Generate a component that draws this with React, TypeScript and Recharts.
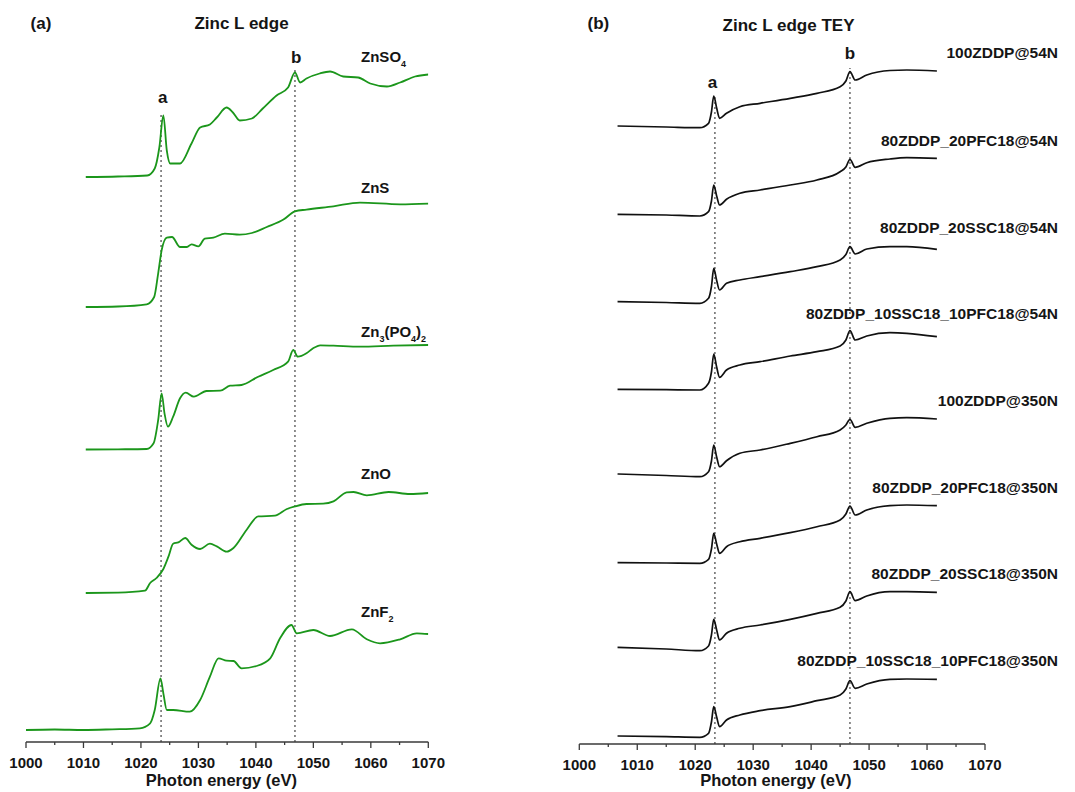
import { LineChart, Line, XAxis, YAxis, ReferenceLine, ReferenceDot } from 'recharts'

const FONT = '"Liberation Sans", Arial, Helvetica, sans-serif'
const GREEN = '#1b961b'
const INK = '#151515'
const AXIS = '#3a3a3a'

// (a) reference compounds, Zn L edge
const znso4Energy = [1010.4, 1016, 1021.1, 1022.4, 1023.2, 1023.9, 1024.5, 1025.1, 1026.8, 1028.8, 1030.3, 1032.0, 1033.2, 1034.9, 1036.0, 1037.2, 1039.3, 1041.2, 1043.6, 1045.6, 1046.8, 1047.7, 1048.8, 1051.1, 1052.9, 1055.2, 1057.8, 1059.9, 1062.8, 1065.1, 1067.7, 1070]
const znso4Int = [0, 0.005, 0.015, 0.085, 0.295, 0.615, 0.265, 0.135, 0.135, 0.335, 0.495, 0.525, 0.595, 0.695, 0.645, 0.565, 0.585, 0.685, 0.815, 0.895, 1.045, 0.945, 0.985, 1.035, 1.055, 1.005, 0.995, 0.935, 0.905, 0.945, 1.005, 1.025]

const znsEnergy = [1010.4, 1016, 1021.0, 1022.3, 1023.0, 1023.6, 1024.5, 1025.4, 1026.8, 1028.0, 1028.8, 1030.0, 1031.1, 1032.6, 1034.6, 1037.2, 1039.3, 1041.9, 1044.8, 1046.8, 1048.8, 1053.5, 1058.1, 1065.1, 1070]
const znsInt = [0, 0.005, 0.027, 0.1, 0.337, 0.567, 0.694, 0.7, 0.6, 0.6, 0.627, 0.607, 0.684, 0.694, 0.734, 0.724, 0.74, 0.8, 0.874, 0.957, 0.974, 1.007, 1.044, 1.027, 1.034]

const znPhosEnergy = [1010.4, 1016, 1021.0, 1022.2, 1023.0, 1023.6, 1024.1, 1024.7, 1025.6, 1026.8, 1027.8, 1029.2, 1031.4, 1033.8, 1035.5, 1037.5, 1040.4, 1043.0, 1045.6, 1046.5, 1047.3, 1048.8, 1049.9, 1051.2, 1053.5, 1058.1, 1063.9, 1070]
const znPhosInt = [0, 0.002, 0.005, 0.062, 0.295, 0.562, 0.362, 0.228, 0.328, 0.512, 0.568, 0.528, 0.585, 0.588, 0.638, 0.645, 0.728, 0.795, 0.878, 0.995, 0.928, 0.962, 1.01, 1.042, 1.038, 1.028, 1.038, 1.045]

const znoEnergy = [1010.4, 1016, 1020.7, 1021.6, 1022.7, 1023.9, 1024.8, 1025.6, 1026.5, 1027.7, 1028.8, 1030.3, 1032.0, 1033.2, 1034.9, 1036.1, 1038.4, 1040.4, 1043.3, 1045.4, 1046.8, 1048.8, 1051.7, 1053.5, 1055.8, 1057.0, 1059.3, 1063.1, 1066.8, 1070]
const znoInt = [0, 0.003, 0.023, 0.1, 0.15, 0.24, 0.366, 0.493, 0.506, 0.55, 0.483, 0.44, 0.493, 0.466, 0.413, 0.45, 0.633, 0.766, 0.773, 0.84, 0.866, 0.89, 0.893, 0.916, 1.006, 1.01, 0.976, 1.01, 0.99, 1.0]

const znf2Energy = [1000, 1005, 1010, 1015, 1019.8, 1021.6, 1022.4, 1023.4, 1023.9, 1024.5, 1025.6, 1028.5, 1030.3, 1032.0, 1033.5, 1034.9, 1036.1, 1037.5, 1040.1, 1042.5, 1044.2, 1046.2, 1047.1, 1050.0, 1052.9, 1056.7, 1059.3, 1061.6, 1065.1, 1068.0, 1070]
const znf2Int = [0, 0.005, 0, 0.007, 0.017, 0.067, 0.2, 0.517, 0.367, 0.2, 0.2, 0.183, 0.3, 0.533, 0.717, 0.693, 0.69, 0.617, 0.64, 0.717, 0.917, 1.05, 0.967, 1.0, 0.94, 1.007, 0.907, 0.867, 0.907, 0.967, 0.96]

const refNames = ['ZnSO4', 'ZnS', 'Zn3(PO4)2', 'ZnO', 'ZnF2']
const refOffsets = [5.65, 4.35, 2.925, 1.49, 0.12]

// (b) tribofilms, TEY
const teyEnergy = [1006.6, 1015, 1020.8, 1022.3, 1022.8, 1023.2, 1023.7, 1024.2, 1025.4, 1027.7, 1031.2, 1036.4, 1041.0, 1045.0, 1046.0, 1046.7, 1047.6, 1049.6, 1053.6, 1056.5, 1061.7]
const zddp100at54 = [0.01, 0, -0.007, 0.037, 0.15, 0.31, 0.19, 0.087, 0.137, 0.203, 0.237, 0.287, 0.337, 0.403, 0.46, 0.553, 0.47, 0.52, 0.565, 0.57, 0.56]
const pfc20at54 = [0.007, 0, -0.01, 0.033, 0.14, 0.3, 0.19, 0.1, 0.157, 0.217, 0.25, 0.3, 0.35, 0.433, 0.48, 0.557, 0.477, 0.523, 0.56, 0.573, 0.567]
const ssc20at54 = [0.008, 0, -0.008, 0.042, 0.16, 0.342, 0.22, 0.125, 0.192, 0.225, 0.258, 0.308, 0.358, 0.425, 0.48, 0.558, 0.485, 0.535, 0.558, 0.558, 0.532]
const mix10at54 = [0.007, 0.003, 0, 0.067, 0.18, 0.36, 0.23, 0.127, 0.2, 0.25, 0.283, 0.34, 0.383, 0.44, 0.5, 0.593, 0.5, 0.54, 0.573, 0.567, 0.533]
const zddp100at350 = [0.02, 0.005, -0.007, 0.043, 0.15, 0.31, 0.19, 0.093, 0.153, 0.227, 0.26, 0.327, 0.393, 0.46, 0.51, 0.567, 0.487, 0.527, 0.577, 0.583, 0.57]
const pfc20at350 = [0.003, 0, -0.003, 0.037, 0.14, 0.297, 0.19, 0.097, 0.163, 0.213, 0.247, 0.303, 0.363, 0.43, 0.49, 0.57, 0.48, 0.53, 0.573, 0.58, 0.573]
const ssc20at350 = [0.027, 0.01, -0.007, 0.04, 0.15, 0.307, 0.2, 0.1, 0.167, 0.217, 0.25, 0.307, 0.367, 0.427, 0.49, 0.583, 0.493, 0.54, 0.583, 0.583, 0.577]
const mix10at350 = [0.01, 0.003, -0.003, 0.037, 0.15, 0.303, 0.2, 0.103, 0.17, 0.22, 0.263, 0.303, 0.363, 0.42, 0.48, 0.563, 0.487, 0.53, 0.577, 0.58, 0.577]

const teyNames = ['100ZDDP@54N', '80ZDDP_20PFC18@54N', '80ZDDP_20SSC18@54N', '80ZDDP_10SSC18_10PFC18@54N', '100ZDDP@350N', '80ZDDP_20PFC18@350N', '80ZDDP_20SSC18@350N', '80ZDDP_10SSC18_10PFC18@350N']
const teyOffsets = [6.17, 5.29, 4.415, 3.54, 2.68, 1.81, 0.94, 0.07]

const energyTicks = [1000, 1005, 1010, 1015, 1020, 1025, 1030, 1035, 1040, 1045, 1050, 1055, 1060, 1065, 1070]
const peakA = 1023.5
const peakB = 1046.8

const refSeries = [
  [znso4Energy, znso4Int],
  [znsEnergy, znsInt],
  [znPhosEnergy, znPhosInt],
  [znoEnergy, znoInt],
  [znf2Energy, znf2Int],
].map(([en, it], i) => ({
  name: refNames[i],
  data: en.map((e, j) => ({ e, y: it[j] + refOffsets[i] })),
}))

const teySeries = [zddp100at54, pfc20at54, ssc20at54, mix10at54, zddp100at350, pfc20at350, ssc20at350, mix10at350].map((vals, i) => ({
  name: teyNames[i],
  data: teyEnergy.map((e, j) => ({ e, y: vals[j] + teyOffsets[i] })),
}))

function EnergyTick(props: any) {
  const { x, y, payload } = props
  const major = payload.value % 10 === 0
  return (
    <g>
      <line x1={x} x2={x} y1={y} y2={y + (major ? 6 : 3)} stroke={AXIS} strokeWidth={1.3} />
      {major && (
        <text x={x} y={y + 26} textAnchor="middle" fontFamily={FONT} fontWeight="bold" fontSize={15} fill={INK}>
          {payload.value}
        </text>
      )}
    </g>
  )
}

// text centred on a data position; digits become subscripts when sub is set
function Tag(props: any) {
  const { viewBox, text, anchor = 'middle', size = 15, sub = false } = props
  const x = viewBox.x + (viewBox.width || 0) / 2
  const y = viewBox.y + (viewBox.height || 0) / 2 + size * 0.36
  const parts: string[] = sub ? text.match(/\d+|\D+/g) : [text]
  let shifted = false
  return (
    <text x={x} y={y} textAnchor={anchor} fontFamily={FONT} fontWeight="bold" fontSize={size} fill={INK}>
      {parts.map((p, i) => {
        const isSub = sub && /^\d+$/.test(p)
        const dy = isSub ? (shifted ? 0 : 5) : shifted ? -5 : 0
        shifted = isSub
        return (
          <tspan key={i} dy={dy || undefined} fontSize={isSub ? 9 : size}>
            {p}
          </tspan>
        )
      })}
    </text>
  )
}

function note(x: number, y: number, tag: any, key: string) {
  return <ReferenceDot key={key} x={x} y={y} r={0} fill="none" stroke="none" ifOverflow="visible" label={tag} />
}

const refLabelY = [6.85, 5.54, 4.1, 2.68, 1.3]
const teyLabelY = [6.92, 6.04, 5.17, 4.31, 3.44, 2.57, 1.71, 0.84]

export default function App() {
  return (
    <div style={{ position: 'absolute', left: 0, top: 0, width: 1075, height: 792, background: '#fff', overflow: 'hidden' }}>
      <div style={{ position: 'absolute', left: 0, top: 0 }}>
        <LineChart width={540} height={792} margin={{ top: 42, left: 26, right: 111.7, bottom: 0 }}>
          <XAxis type="number" dataKey="e" domain={[1000, 1070]} ticks={energyTicks} interval={0} tick={<EnergyTick />} tickLine={false} tickSize={0} tickMargin={0} height={50} stroke={AXIS} strokeWidth={1.3} allowDataOverflow />
          <YAxis hide type="number" domain={[0, 7]} allowDataOverflow />
          <ReferenceLine segment={[{ x: peakA, y: 0 }, { x: peakA, y: 6.29 }]} stroke="#444" strokeDasharray="2 3" strokeWidth={1.2} />
          <ReferenceLine segment={[{ x: peakB, y: 0 }, { x: peakB, y: 6.72 }]} stroke="#444" strokeDasharray="2 3" strokeWidth={1.2} />
          {refSeries.map((s) => (
            <Line key={s.name} data={s.data} dataKey="y" type="monotone" stroke={GREEN} strokeWidth={1.8} dot={false} isAnimationActive={false} />
          ))}
          {note(1002.6, 7.19, <Tag text="(a)" size={17} />, 'pa')}
          {note(1037.5, 7.19, <Tag text="Zinc L edge" size={17} />, 'ta')}
          {note(1023.8, 6.45, <Tag text="a" size={17} />, 'la')}
          {note(1047.0, 6.85, <Tag text="b" size={17} />, 'lb')}
          {refNames.map((n, i) => note(1058.3, refLabelY[i], <Tag text={n} anchor="start" sub />, 'n' + i))}
          {note(1034.0, -0.385, <Tag text="Photon energy (eV)" size={16.5} />, 'xa')}
        </LineChart>
      </div>
      <div style={{ position: 'absolute', left: 540, top: 0 }}>
        <LineChart width={535} height={792} margin={{ top: 44, left: 39.3, right: 90, bottom: 0 }}>
          <XAxis type="number" dataKey="e" domain={[1000, 1070]} ticks={energyTicks} interval={0} tick={<EnergyTick />} tickLine={false} tickSize={0} tickMargin={0} height={48} stroke={AXIS} strokeWidth={1.3} allowDataOverflow />
          <YAxis hide type="number" domain={[0, 7]} allowDataOverflow />
          <ReferenceLine segment={[{ x: 1023.4, y: 0 }, { x: 1023.4, y: 6.47 }]} stroke="#444" strokeDasharray="2 3" strokeWidth={1.2} />
          <ReferenceLine segment={[{ x: 1046.7, y: 0 }, { x: 1046.7, y: 6.76 }]} stroke="#444" strokeDasharray="2 3" strokeWidth={1.2} />
          {teySeries.map((s) => (
            <Line key={s.name} data={s.data} dataKey="y" type="monotone" stroke="#111" strokeWidth={1.7} dot={false} isAnimationActive={false} />
          ))}
          {note(1003.3, 7.21, <Tag text="(b)" size={17} />, 'pb')}
          {note(1036.1, 7.19, <Tag text="Zinc L edge TEY" size={17} />, 'tb')}
          {note(1023.0, 6.62, <Tag text="a" size={17} />, 'la')}
          {note(1046.7, 6.91, <Tag text="b" size={17} />, 'lb')}
          {teyNames.map((n, i) => note(1082.6, teyLabelY[i], <Tag text={n} anchor="end" size={15.5} />, 'n' + i))}
          {note(1033.9, -0.365, <Tag text="Photon energy (eV)" size={16.5} />, 'xb')}
        </LineChart>
      </div>
    </div>
  )
}
